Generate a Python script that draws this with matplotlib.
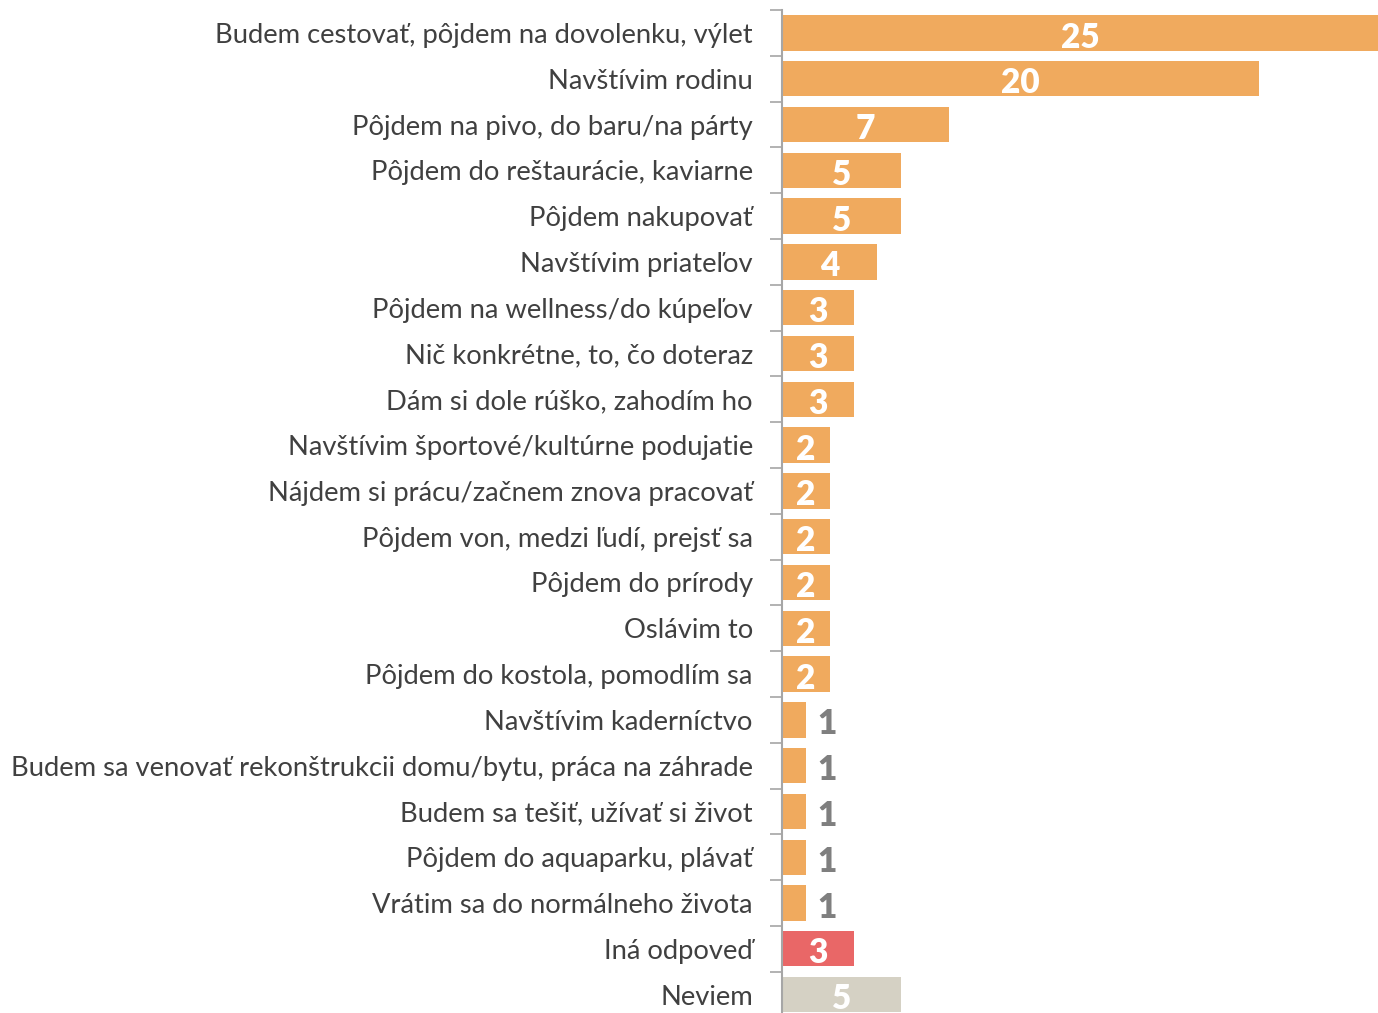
import matplotlib.pyplot as plt
import numpy as np

categories = [
    "Budem cestovať, pôjdem na dovolenku, výlet",
    "Navštívim rodinu",
    "Pôjdem na pivo, do baru/na párty",
    "Pôjdem do reštaurácie, kaviarne",
    "Pôjdem nakupovať",
    "Navštívim priateľov",
    "Pôjdem na wellness/do kúpeľov",
    "Nič konkrétne, to, čo doteraz",
    "Dám si dole rúško, zahodím ho",
    "Navštívim športové/kultúrne podujatie",
    "Nájdem si prácu/začnem znova pracovať",
    "Pôjdem von, medzi ľudí, prejsť sa",
    "Pôjdem do prírody",
    "Oslávim to",
    "Pôjdem do kostola, pomodlím sa",
    "Navštívim kaderníctvo",
    "Budem sa venovať rekonštrukcii domu/bytu, práca na záhrade",
    "Budem sa tešiť, užívať si život",
    "Pôjdem do aquaparku, plávať",
    "Vrátim sa do normálneho života",
    "Iná odpoveď",
    "Neviem",
]
values = [25, 20, 7, 5, 5, 4, 3, 3, 3, 2, 2, 2, 2, 2, 2, 1, 1, 1, 1, 1, 3, 5]

ORANGE = "#F0AA5E"
RED = "#E96767"
BEIGE = "#D5D1C4"
colors = [ORANGE] * (len(values) - 2) + [RED, BEIGE]

plt.rcParams["font.family"] = ["Lato", "DejaVu Sans"]

fig = plt.figure(figsize=(13.78, 10.13), dpi=100)
ax = fig.add_axes([782 / 1378, -0.0045, 596 / 1378, 0.9946])

y = np.arange(len(values))
bars = ax.barh(y, values, height=0.77, color=colors)
ax.set_xlim(0, 25)
ax.set_ylim(len(values) - 0.5, -0.5)

# value labels: inside the bar in white, small ones outside in grey
for b, v in zip(bars, values):
    cy = b.get_y() + b.get_height() / 2
    if v >= 2:
        ax.text(v / 2, cy + 0.1, str(v), ha="center", va="center",
                color="white", fontsize=24, fontweight="heavy")
    else:
        ax.text(v + 0.9, cy + 0.1, str(v), ha="center", va="center",
                color="#7F7F7F", fontsize=24, fontweight="heavy")

ax.set_yticks(y)
ax.set_yticklabels(categories, fontsize=19.7, color="#404040")
ax.tick_params(axis="y", which="major", length=0, pad=21)
ax.set_yticks(np.arange(len(values) + 1) - 0.5, minor=True)
ax.tick_params(axis="y", which="minor", length=9, width=1.2, color="#A6A6A6")
ax.set_xticks([])

for s in ["top", "right", "bottom"]:
    ax.spines[s].set_visible(False)
ax.spines["left"].set_color("#A6A6A6")
ax.spines["left"].set_linewidth(1.5)

fig.savefig("out.png", dpi=100)
